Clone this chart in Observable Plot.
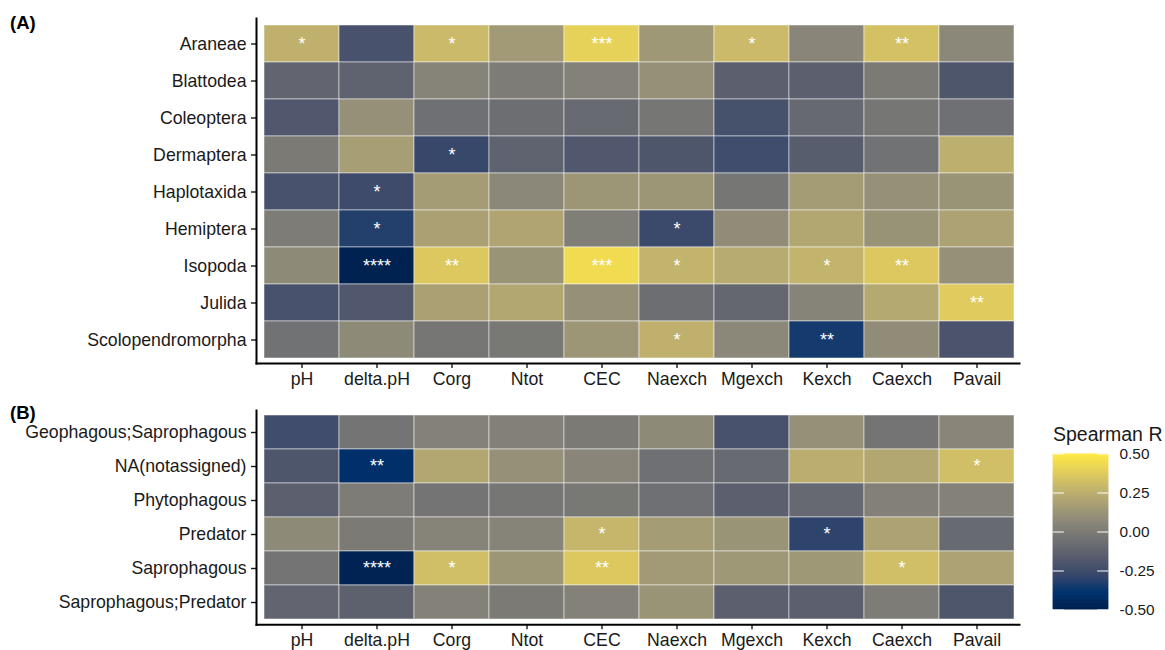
<!DOCTYPE html>
<html>
<head>
<meta charset="utf-8">
<script src="https://cdn.jsdelivr.net/npm/d3@7"></script>
<script src="https://cdn.jsdelivr.net/npm/@observablehq/plot@0.6"></script>
<style>
  html, body { margin: 0; padding: 0; background: #fff; }
  #root { position: relative; width: 1165px; height: 650px; overflow: hidden; font-family: "Liberation Sans", Arial, Helvetica, sans-serif; color: #1a1a1a; }
  #root > * { position: absolute; }
  .tag { font-weight: bold; font-size: 18.5px; line-height: 18.5px; color: #000; }
  .ltitle { font-size: 19.5px; line-height: 19.5px; color: #1a1a1a; white-space: nowrap; }
</style>
</head>
<body>
<div id="root"></div>
<script>
const variables = ["pH","delta.pH","Corg","Ntot","CEC","Naexch","Mgexch","Kexch","Caexch","Pavail"];

const taxaA = ["Araneae","Blattodea","Coleoptera","Dermaptera","Haplotaxida","Hemiptera","Isopoda","Julida","Scolopendromorpha"];
const rA = [
  [ 0.26,-0.22, 0.30, 0.15, 0.40, 0.14, 0.30, 0.05, 0.33, 0.06],
  [-0.12,-0.13, 0.04, 0.00, 0.03, 0.10,-0.15,-0.15,-0.01,-0.20],
  [-0.19, 0.10,-0.06,-0.07,-0.09,-0.03,-0.23,-0.10,-0.03,-0.06],
  [-0.01, 0.17,-0.28,-0.13,-0.19,-0.20,-0.25,-0.16,-0.05, 0.25],
  [-0.22,-0.26, 0.16, 0.06, 0.13, 0.13,-0.03, 0.16, 0.10, 0.12],
  [ 0.00,-0.32, 0.18, 0.20, 0.01,-0.27, 0.08, 0.21, 0.11, 0.19],
  [ 0.07,-0.49, 0.36, 0.12, 0.44, 0.27, 0.23, 0.27, 0.36, 0.10],
  [-0.22,-0.19, 0.18, 0.21, 0.10,-0.07,-0.11, 0.04, 0.22, 0.37],
  [-0.05, 0.07,-0.03,-0.02, 0.13, 0.26, 0.06,-0.35, 0.08,-0.21]
];
const sigA = [
  ["*","","*","","***","","*","","**",""],
  ["","","","","","","","","",""],
  ["","","","","","","","","",""],
  ["","","*","","","","","","",""],
  ["","*","","","","","","","",""],
  ["","*","","","","*","","","",""],
  ["","****","**","","***","*","","*","**",""],
  ["","","","","","","","","","**"],
  ["","","","","","*","","**","",""]
];

const taxaB = ["Geophagous;Saprophagous","NA(notassigned)","Phytophagous","Predator","Saprophagous","Saprophagous;Predator"];
const rB = [
  [-0.25,-0.04, 0.03, 0.02,-0.01, 0.07,-0.22, 0.10,-0.04, 0.05],
  [-0.20,-0.41, 0.21, 0.10, 0.05,-0.06,-0.09, 0.24, 0.21, 0.32],
  [-0.15, 0.00,-0.04,-0.03,-0.02,-0.06,-0.15,-0.10, 0.02, 0.03],
  [ 0.07,-0.01, 0.04, 0.04, 0.28, 0.16, 0.12,-0.30, 0.19,-0.09],
  [-0.04,-0.48, 0.32, 0.13, 0.36, 0.15, 0.14, 0.14, 0.32, 0.19],
  [-0.12,-0.14, 0.03,-0.01, 0.03, 0.12,-0.15,-0.15, 0.00,-0.20]
];
const sigB = [
  ["","","","","","","","","",""],
  ["","**","","","","","","","","*"],
  ["","","","","","","","","",""],
  ["","","","","*","","","*","",""],
  ["","****","*","","**","","","","*",""],
  ["","","","","","","","","",""]
];

const legendBreaks = [-0.5, -0.25, 0, 0.25, 0.5];

// cividis palette (viridisLite, 10 stops)
const cividisStops = ["#00204D","#00336F","#39486B","#575C6D","#707173","#8A8779","#A69D75","#C4B56C","#E4CF5B","#FFEA46"];
const cividis = d3.piecewise(d3.interpolateRgb, cividisStops);

const colorScale = {type: "linear", domain: [-0.5, 0.5], interpolate: cividis, clamp: true};
const FONT = '"Liberation Sans", Arial, Helvetica, sans-serif';

function table(taxa, r, sig) {
  return taxa.flatMap((t, i) => variables.map((v, j) => ({taxon: t, variable: v, R: r[i][j], sig: sig[i][j]})));
}

function panel(taxa, r, sig, opts) {
  const data = table(taxa, r, sig);
  return Plot.plot({
    width: 1165,
    height: opts.height,
    marginLeft: 256,
    marginRight: 146,
    marginTop: opts.marginTop,
    marginBottom: opts.marginBottom,
    style: {fontFamily: FONT, fontSize: "17.7px", color: "#1a1a1a", background: "transparent", overflow: "visible"},
    x: {type: "band", domain: variables, padding: 0, insetLeft: 7, insetRight: 4, label: null},
    y: {type: "band", domain: taxa, padding: 0, insetTop: opts.insetTop, insetBottom: opts.insetBottom, label: null},
    color: colorScale,
    marks: [
      Plot.cell(data, {x: "variable", y: "taxon", fill: "R", inset: 0, stroke: "#ffffff", strokeOpacity: 0.55, strokeWidth: 0.9}),
      Plot.text(data.filter(d => d.sig), {x: "variable", y: "taxon", text: "sig", fill: "white", fontSize: 18}),
      Plot.axisY({anchor: "left", tickSize: 5, tickPadding: 5, strokeWidth: 1.4, stroke: "#1a1a1a", fill: "#1a1a1a", label: null}),
      Plot.axisX({anchor: "bottom", tickSize: 5, tickPadding: 4, strokeWidth: 1.4, stroke: "#1a1a1a", fill: "#1a1a1a", label: null}),
      Plot.frame({anchor: "left", stroke: "#000", strokeWidth: 2}),
      Plot.frame({anchor: "bottom", stroke: "#000", strokeWidth: 2})
    ]
  });
}

const root = document.getElementById("root");

const pA = panel(taxaA, rA, sigA, {height: 390, marginTop: 18, marginBottom: 27, insetTop: 4, insetBottom: 3});
pA.style.left = "0px"; pA.style.top = "0px";
root.appendChild(pA);

const pB = panel(taxaB, rB, sigB, {height: 260, marginTop: 20, marginBottom: 25.7, insetTop: 3.3, insetBottom: 3.3});
pB.style.left = "0px"; pB.style.top = "390px";
root.appendChild(pB);

// colour bar legend
const nSteps = 120;
const legendSteps = d3.range(nSteps).map(i => -0.5 + i / nSteps);
const stepH = 1 / nSteps;
const leg = Plot.plot({
  width: 140,
  height: 230,
  marginLeft: 27.7,
  marginRight: 56.7,
  marginTop: 33.5,
  marginBottom: 40.5,
  style: {fontFamily: FONT, fontSize: "15.4px", color: "#1a1a1a", background: "transparent", overflow: "visible"},
  x: {domain: [0, 1], axis: null},
  y: {domain: [-0.5, 0.5], label: null},
  color: colorScale,
  marks: [
    Plot.rect(legendSteps, {x1: 0, x2: 1, y1: d => d, y2: d => Math.min(0.5, d + stepH * 1.6), fill: d => d + stepH / 2}),
    Plot.ruleY(legendBreaks, {x1: 0, x2: 0.2, stroke: "white", strokeWidth: 1}),
    Plot.ruleY(legendBreaks, {x1: 0.8, x2: 1, stroke: "white", strokeWidth: 1}),
    Plot.axisY(legendBreaks, {anchor: "right", tickSize: 0, tickPadding: 10.7, tickFormat: d => d.toFixed(2), fill: "#1a1a1a", label: null})
  ]
});
leg.style.left = "1025px"; leg.style.top = "420px";
root.appendChild(leg);

const title = document.createElement("div");
title.className = "ltitle";
title.textContent = "Spearman R";
title.style.left = "1053px"; title.style.top = "425px";
root.appendChild(title);

const tA = document.createElement("div");
tA.className = "tag"; tA.textContent = "(A)";
tA.style.left = "10px"; tA.style.top = "14px";
root.appendChild(tA);

const tB = document.createElement("div");
tB.className = "tag"; tB.textContent = "(B)";
tB.style.left = "10px"; tB.style.top = "404px";
root.appendChild(tB);
</script>
</body>
</html>
